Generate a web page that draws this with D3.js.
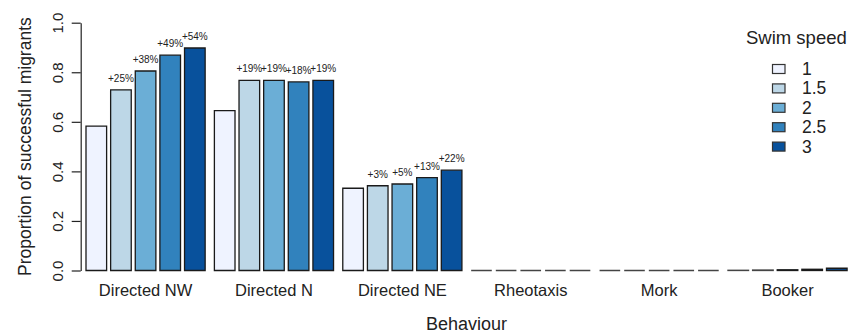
<!DOCTYPE html>
<html>
<head>
<meta charset="utf-8">
<script src="https://cdn.jsdelivr.net/npm/d3@7"></script>
<style>
  html, body { margin: 0; padding: 0; background: #fff; }
  svg { display: block; font-family: "Liberation Sans", Arial, Helvetica, sans-serif; }
</style>
</head>
<body>
<svg id="chart" width="849" height="335"></svg>
<script>
// Behaviour categories along the x axis
const behaviours = ["Directed NW", "Directed N", "Directed NE", "Rheotaxis", "Mork", "Booker"];
// Swim speeds (one bar per speed within each behaviour)
const speeds = ["1", "1.5", "2", "2.5", "3"];
// Proportion of successful migrants, one array per swim speed (ordered as behaviours)
const speed1   = [0.583, 0.645, 0.332, 0, 0, 0.001];
const speed1_5 = [0.729, 0.767, 0.342, 0, 0, 0.002];
const speed2   = [0.805, 0.767, 0.349, 0, 0, 0.003];
const speed2_5 = [0.869, 0.761, 0.375, 0, 0, 0.005];
const speed3   = [0.898, 0.767, 0.405, 0, 0, 0.009];
// Relative gain over swim speed 1, printed above bars (null = no label)
const gainNW = [null, "+25%", "+38%", "+49%", "+54%"];
const gainN  = [null, "+19%", "+19%", "+18%", "+19%"];
const gainNE = [null, "+3%", "+5%", "+13%", "+22%"];
const gains = [gainNW, gainN, gainNE, null, null, null];
// Y axis ticks
const yTicks = [0, 0.2, 0.4, 0.6, 0.8, 1.0];
// Fill palette for swim speeds
const palette = ["#eff3ff", "#bdd7e7", "#6baed6", "#3182bd", "#08519c"];

const series = [speed1, speed1_5, speed2, speed2_5, speed3];

const svg = d3.select("#chart");

const y = d3.scaleLinear().domain([0, 1]).range([270.5, 22.7]);

const x0 = d3.scaleBand()
  .domain(behaviours)
  .range([86, 847.1])
  .paddingInner(0.072)
  .paddingOuter(0);

const x1 = d3.scaleBand()
  .domain(speeds)
  .range([0, x0.bandwidth()])
  .paddingInner(0.163)
  .paddingOuter(0);

const color = d3.scaleOrdinal().domain(speeds).range(palette);

// Flatten into one record per bar
const bars = [];
behaviours.forEach((b, i) => {
  speeds.forEach((s, j) => {
    bars.push({
      behaviour: b, speed: s, value: series[j][i],
      label: gains[i] ? gains[i][j] : null
    });
  });
});

// Bars drawn as closed paths so zero-height bars still show as a line
const barG = svg.append("g");
barG.selectAll("path.bar")
  .data(bars)
  .join("path")
  .attr("class", "bar")
  .attr("d", d => {
    const xl = x0(d.behaviour) + x1(d.speed);
    const xr = xl + x1.bandwidth();
    return `M${xl},${y(0)}H${xr}V${y(d.value)}H${xl}Z`;
  })
  .attr("fill", d => color(d.speed))
  .attr("stroke", d => d.value > 0.002 ? "#1a1a1a" : "#444")
  .attr("stroke-width", 1.3);

// Percentage gain labels
barG.selectAll("text.gain")
  .data(bars.filter(d => d.label))
  .join("text")
  .attr("class", "gain")
  .attr("x", d => x0(d.behaviour) + x1(d.speed) + x1.bandwidth() / 2)
  .attr("y", d => y(d.value) - 8)
  .attr("text-anchor", "middle")
  .attr("font-size", 10)
  .attr("fill", "#222")
  .text(d => d.label);

// Y axis
const yAxis = svg.append("g")
  .attr("transform", "translate(80.7,0)")
  .call(d3.axisLeft(y).tickValues(yTicks).tickSize(9).tickSizeOuter(0).tickFormat(d3.format(".1f")));
yAxis.select(".domain").attr("stroke", "#222").attr("stroke-width", 1.2);
yAxis.selectAll(".tick line").attr("stroke", "#222").attr("stroke-width", 1.2);
// tick labels rotated to run along the axis
yAxis.selectAll(".tick text")
  .attr("font-size", 15)
  .attr("fill", "#222")
  .attr("font-family", "Liberation Sans, Arial, sans-serif")
  .attr("text-anchor", "middle")
  .attr("x", 0)
  .attr("y", 0)
  .attr("dy", 0)
  .attr("transform", "translate(-18,0) rotate(-90)");

// Y axis title
svg.append("text")
  .attr("transform", `translate(31,${(y(0) + y(1)) / 2}) rotate(-90)`)
  .attr("text-anchor", "middle")
  .attr("font-size", 17.5)
  .attr("fill", "#222")
  .text("Proportion of successful migrants");

// Group labels
svg.append("g").selectAll("text")
  .data(behaviours)
  .join("text")
  .attr("x", d => x0(d) + x0.bandwidth() / 2)
  .attr("y", 296)
  .attr("text-anchor", "middle")
  .attr("font-size", 16.5)
  .attr("fill", "#222")
  .text(d => d);

// X axis title
svg.append("text")
  .attr("x", (x0.range()[0] + x0.range()[1]) / 2)
  .attr("y", 330)
  .attr("text-anchor", "middle")
  .attr("font-size", 18)
  .attr("fill", "#222")
  .text("Behaviour");

// Legend
const legend = svg.append("g");
legend.append("text")
  .attr("x", 746)
  .attr("y", 44)
  .attr("font-size", 18.5)
  .attr("fill", "#222")
  .text("Swim speed");
const rows = legend.selectAll("g.row")
  .data(speeds)
  .join("g")
  .attr("class", "row")
  .attr("transform", (d, i) => `translate(0,${69 + i * 19.4})`);
rows.append("rect")
  .attr("x", 772.5)
  .attr("y", -4.5)
  .attr("width", 12.5)
  .attr("height", 9)
  .attr("fill", d => color(d))
  .attr("stroke", "#333")
  .attr("stroke-width", 1.2);
rows.append("text")
  .attr("x", 802)
  .attr("y", 6)
  .attr("font-size", 17.5)
  .attr("fill", "#222")
  .text(d => d);
</script>
</body>
</html>
